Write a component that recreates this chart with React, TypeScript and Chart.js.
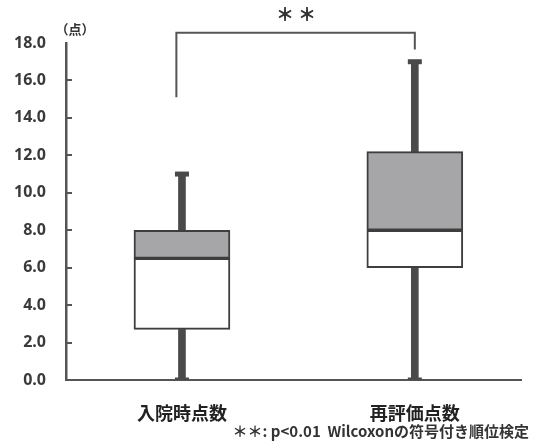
import React, { useEffect, useRef } from 'react';
import { Chart, registerables } from 'chart.js';

Chart.register(...registerables);

const categories = ['入院時点数', '再評価点数'];
const minValues = [0, 0];
const q1Values = [2.7, 6.0];
const medianValues = [6.5, 8.0];
const q3Values = [8.0, 12.2];
const maxValues = [11.0, 17.0];
const yTickValues = [0, 2, 4, 6, 8, 10, 12, 14, 16, 18];
const bracketX = [0.976, 0.976, 2.0, 2.0];
const bracketY = [15.1, 18.55, 18.55, 17.65];
const significanceLabel = '＊ ＊';
const unitLabel = '（点）';
const footnote = '＊＊: p<0.01  Wilcoxonの符号付き順位検定';

const JP = '"Noto Sans CJK JP", "Noto Sans", sans-serif';

const extrasPlugin = {
  id: 'extras',
  afterDraw(chart: any) {
    const ctx = chart.ctx;
    const y = chart.scales.y;
    const x = chart.scales.x;
    ctx.save();
    // inward y ticks
    ctx.strokeStyle = '#555';
    ctx.lineWidth = 2;
    yTickValues.forEach((v) => {
      if (v === 0 || v === 18) return;
      const py = Math.round(y.getPixelForValue(v));
      ctx.beginPath();
      ctx.moveTo(x.left, py);
      ctx.lineTo(x.left + 6, py);
      ctx.stroke();
    });
    ctx.fillStyle = '#333';
    ctx.font = `bold 13px ${JP}`;
    ctx.textAlign = 'center';
    ctx.textBaseline = 'middle';
    ctx.fillText(unitLabel, x.left + 9, 29);
    ctx.font = `900 18px ${JP}`;
    ctx.fillText(significanceLabel, x.getPixelForValue(1.49), 14);
    ctx.font = `bold 15px ${JP}`;
    ctx.textAlign = 'right';
    ctx.fillText(footnote, chart.width - 4, 431);
    ctx.restore();
  },
};

export default function App() {
  const ref = useRef<HTMLCanvasElement>(null);
  useEffect(() => {
    document.body.style.margin = '0';
    const pts = (vals: number[]) => vals.map((v, i) => ({ x: i + 1, y: v }));
    const range = (a: number[], b: number[]) => a.map((v, i) => ({ x: i + 1, y: [v, b[i]] }));
    const chart = new Chart(ref.current as HTMLCanvasElement, {
      type: 'bar',
      data: {
        datasets: [
          {
            data: range(q1Values, medianValues) as any,
            backgroundColor: '#ffffff',
            borderColor: '#3e3e3e',
            borderWidth: 2,
            borderSkipped: false,
            barThickness: 96,
            grouped: false,
          } as any,
          {
            data: range(medianValues, q3Values) as any,
            backgroundColor: '#a6a6a8',
            borderColor: '#3e3e3e',
            borderWidth: 2,
            borderSkipped: false,
            barThickness: 96,
            grouped: false,
          } as any,
          {
            data: range(minValues, q1Values) as any,
            backgroundColor: '#4a4a4a',
            borderWidth: 0,
            barThickness: 7,
            grouped: false,
          } as any,
          {
            data: range(q3Values, maxValues) as any,
            backgroundColor: '#4a4a4a',
            borderWidth: 0,
            barThickness: 7,
            grouped: false,
          } as any,
          {
            type: 'scatter',
            data: [...pts(maxValues), ...pts(minValues)],
            pointStyle: 'line',
            pointRadius: 7,
            pointBorderWidth: 5,
            pointBorderColor: '#4a4a4a',
            borderColor: '#4a4a4a',
          } as any,
          {
            type: 'scatter',
            data: bracketX.map((v, i) => ({ x: v, y: bracketY[i] })),
            showLine: true,
            borderColor: '#555',
            borderWidth: 2,
            pointRadius: 0,
            clip: false,
          } as any,
        ],
      },
      options: {
        responsive: false,
        animation: false,
        layout: { padding: { top: 43, left: 0, right: 0, bottom: 0 } },
        plugins: { legend: { display: false }, tooltip: { enabled: false } },
        scales: {
          x: {
            type: 'linear',
            min: 0.502,
            max: 2.456,
            offset: false,
            grid: { display: false, drawTicks: false },
            border: { display: true, color: '#555', width: 2 },
            afterBuildTicks: (axis: any) => {
              axis.ticks = categories.map((_, i) => ({ value: i + 1 }));
            },
            afterFit: (axis: any) => {
              axis.height = 61;
              axis.paddingLeft = 0;
              axis.paddingRight = 0;
            },
            ticks: {
              callback: (v: any) => categories[Math.round(v) - 1] ?? '',
              font: { family: JP, size: 18, weight: 'bold' },
              color: '#222',
              padding: 22,
              maxRotation: 0,
            },
          },
          y: {
            min: 0,
            max: 18,
            grid: { display: false, drawTicks: false },
            border: { display: true, color: '#555', width: 2.5 },
            afterBuildTicks: (axis: any) => {
              axis.ticks = yTickValues.map((v) => ({ value: v }));
            },
            afterFit: (axis: any) => {
              axis.width = 66;
            },
            ticks: {
              callback: (v: any) => Number(v).toFixed(1),
              font: { family: '"Noto Sans", sans-serif', size: 16, weight: 'bold' },
              color: '#3a3a3a',
              padding: 20,
            },
          },
        },
      },
      plugins: [extrasPlugin],
    });
    return () => chart.destroy();
  }, []);
  return (
    <div style={{ width: 533, height: 441 }}>
      <canvas ref={ref} width={533} height={441} />
    </div>
  );
}
